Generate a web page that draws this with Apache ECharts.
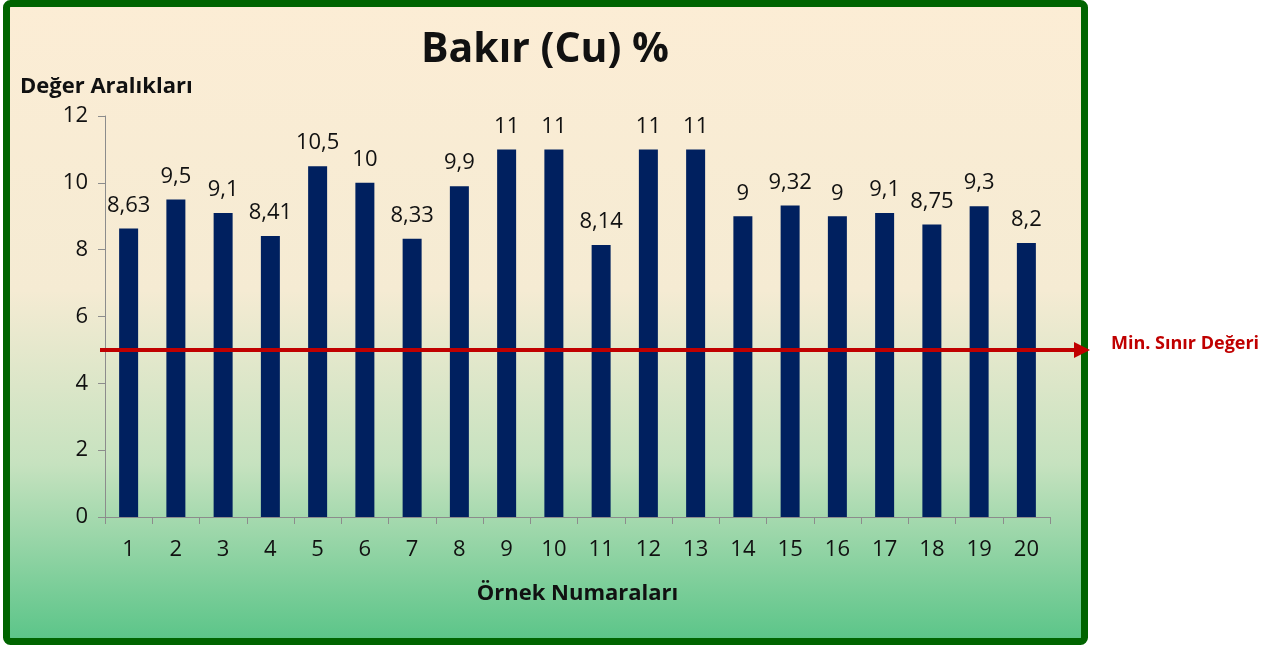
<!DOCTYPE html>
<html><head><meta charset="utf-8">
<script src="https://cdn.jsdelivr.net/npm/echarts@6/dist/echarts.min.js"></script>
<style>html,body{margin:0;padding:0;background:#fff}#c{width:1275px;height:648px}</style>
</head><body><div id="c"></div>
<script>
const categories = ['1','2','3','4','5','6','7','8','9','10','11','12','13','14','15','16','17','18','19','20'];
const values = [8.63, 9.5, 9.1, 8.41, 10.5, 10, 8.33, 9.9, 11, 11, 8.14, 11, 11, 9, 9.32, 9, 9.1, 8.75, 9.3, 8.2];
const minLimit = 5;
const titleText = 'Bakır (Cu) %';
const yName = 'Değer Aralıkları';
const xName = 'Örnek Numaraları';
const limitLabel = 'Min. Sınır Değeri';

const chart = echarts.init(document.getElementById('c'));
const FONT = '"Open Sans", Lato, sans-serif';
const option = {
  animation: false,
  textStyle: {fontFamily: FONT},
  title: {text: titleText, left: 540, top: 25, textAlign: 'center',
    textStyle: {fontSize: 41, fontWeight: 'bold', color: '#111', fontFamily: FONT}},
  grid: {left: 105, right: 225, top: 116, bottom: 131},
  xAxis: {type: 'category', data: categories,
    axisLine: {lineStyle: {color: '#8c8c8c', width: 1}},
    axisTick: {show: true, length: 7, lineStyle: {color: '#8c8c8c'}},
    axisLabel: {fontSize: 22, color: '#111', margin: 22, fontFamily: FONT},
    name: xName, nameLocation: 'middle', nameGap: 66,
    nameTextStyle: {fontSize: 22, fontWeight: 'bold', color: '#111', fontFamily: FONT}
  },
  yAxis: {type: 'value', min: 0, max: 12, interval: 2,
    axisLine: {show: true, lineStyle: {color: '#8c8c8c', width: 1}},
    axisTick: {show: true, length: 7, lineStyle: {color: '#8c8c8c'}},
    splitLine: {show: false},
    axisLabel: {fontSize: 22, color: '#111', margin: 17, fontFamily: FONT},
    name: yName, nameLocation: 'end', nameGap: 18,
    nameTextStyle: {fontSize: 22, fontWeight: 'bold', color: '#111', align: 'left', padding: [0,0,0,-85], fontFamily: FONT}
  },
  series: [{type: 'bar', data: values, barWidth: 19,
    itemStyle: {color: '#00205f'},
    label: {show: true, position: 'top', distance: 12, fontSize: 22, color: '#111', fontFamily: FONT,
      formatter: p => String(p.value).replace('.', ',')}
  }],
  graphic: []
};
chart.setOption(option);

const y5 = chart.convertToPixel({yAxisIndex: 0}, minLimit);
chart.setOption({graphic: [
  {type: 'rect', z: -10, silent: true,
    shape: {x: 6.5, y: 3.5, width: 1078, height: 638, r: 4},
    style: {fill: new echarts.graphic.LinearGradient(0, 0, 0, 1, [
      {offset: 0, color: '#fcedd5'},
      {offset: 0.45, color: '#f5ebd3'},
      {offset: 0.72, color: '#c6e2bf'},
      {offset: 1, color: '#58c487'}]),
      stroke: '#006400', lineWidth: 7}},
  {type: 'line', z: 10, shape: {x1: 100, y1: y5, x2: 1078, y2: y5},
    style: {stroke: '#c00000', lineWidth: 4}},
  {type: 'polygon', z: 10, shape: {points: [[1074, y5 - 8], [1090, y5], [1074, y5 + 8]]},
    style: {fill: '#c00000'}},
  {type: 'text', z: 10, x: 1111, y: y5 - 6, style: {text: limitLabel, fill: '#c00000',
    font: 'bold 18px ' + FONT, textVerticalAlign: 'middle'}}
]});
</script></body></html>
